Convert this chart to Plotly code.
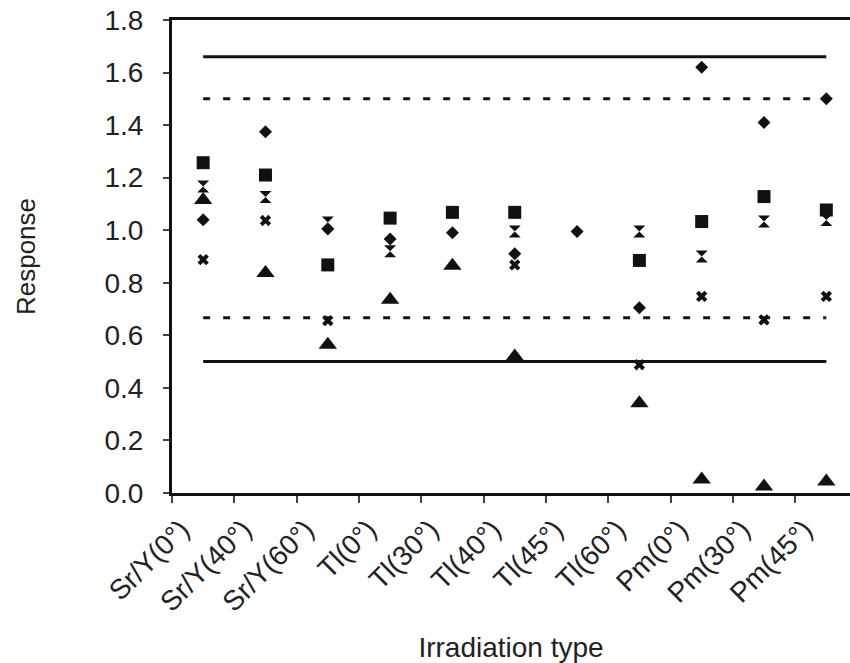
import plotly.graph_objects as go

categories = ["Sr/Y(0°)", "Sr/Y(40°)", "Sr/Y(60°)", "Tl(0°)", "Tl(30°)", "Tl(40°)",
              "Tl(45°)", "Tl(60°)", "Pm(0°)", "Pm(30°)", "Pm(45°)"]

diamond_vals = [1.04, 1.375, 1.005, 0.967, 0.99, 0.91, 0.995, 0.705, 1.62, 1.41, 1.50]
square_vals = [1.257, 1.21, 0.868, 1.046, 1.068, 1.068, None, 0.885, 1.033, 1.128, 1.077]
triangle_vals = [1.115, 0.837, 0.564, 0.735, 0.865, 0.519, None, 0.342, 0.051, 0.025, 0.044]
x_vals = [0.888, 1.037, 0.656, None, None, 0.868, None, 0.488, 0.748, 0.659, 0.748]
star_vals = [1.166, 1.126, 1.029, 0.92, None, 0.995, None, 0.995, 0.90, 1.033, 1.039]

outer_limits = [1.66, 0.5]
inner_limits = [1.5, 0.667]

y_tick_vals = [0.0, 0.2, 0.4, 0.6, 0.8, 1.0, 1.2, 1.4, 1.6, 1.8]
y_tick_text = ["0.0", "0.2", "0.4", "0.6", "0.8", "1.0", "1.2", "1.4", "1.6", "1.8"]

FONT = "Liberation Sans, Arial, sans-serif"
INK = "#111111"

fig = go.Figure()

for v in outer_limits:
    fig.add_trace(go.Scatter(x=[categories[0], categories[-1]], y=[v, v], mode="lines",
                             line=dict(color=INK, width=3), showlegend=False, hoverinfo="skip"))
for v in inner_limits:
    fig.add_trace(go.Scatter(x=[categories[0], categories[-1]], y=[v, v], mode="lines",
                             line=dict(color=INK, width=3, dash="7px,13px"), showlegend=False,
                             hoverinfo="skip"))

series = [
    (diamond_vals, "diamond", 10),
    (square_vals, "square", 13),
    (triangle_vals, "triangle-up", 16),
    (x_vals, "x", 10),
    (star_vals, "hourglass", 12),
]
for vals, sym, size in series:
    fig.add_trace(go.Scatter(x=categories, y=vals, mode="markers",
                             marker=dict(symbol=sym, size=size, color=INK, line=dict(width=0)),
                             showlegend=False))

fig.update_layout(
    width=850, height=663,
    margin=dict(l=172, r=0, t=20, b=170),
    paper_bgcolor="white", plot_bgcolor="white",
    font=dict(family=FONT, size=28, color="#222222"),
    showlegend=False,
)
fig.update_xaxes(
    type="category", categoryorder="array", categoryarray=categories,
    range=[-0.5, 10.38], tickson="boundaries", ticks="outside", ticklen=7, tickwidth=1.5,
    tickcolor="#444444", tickangle=-45, showline=True, linecolor=INK, linewidth=3,
    mirror=True, showgrid=False, zeroline=False, automargin=False,
    ticklabelshift=-22, ticklabelstandoff=6,
    title=dict(text="Irradiation type", font=dict(size=28), standoff=30),
)
fig.update_yaxes(
    range=[0, 1.8], tickvals=y_tick_vals, ticktext=y_tick_text, ticks="outside", ticklen=6,
    tickwidth=1.5, tickcolor="#444444", showline=True, linecolor=INK, linewidth=3,
    showgrid=False, zeroline=False, ticklabelstandoff=14, automargin=False,
    title=dict(text="Response", font=dict(size=26), standoff=62),
)

# remove the browser's default 8px body margin so the figure fills the window exactly
fig.write_html("out.html", config={"displayModeBar": False},
               post_script="document.body.style.margin='0';document.body.style.overflow='hidden';")
